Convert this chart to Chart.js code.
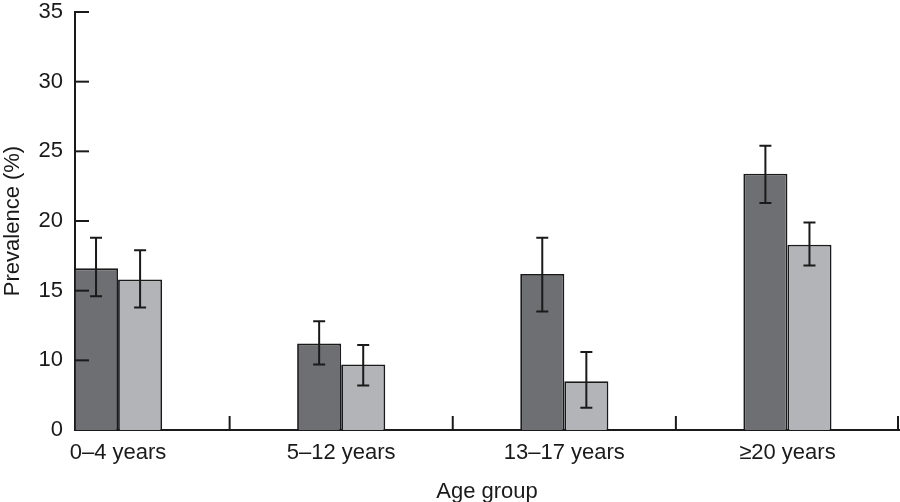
<!DOCTYPE html>
<html>
<head>
<meta charset="utf-8">
<script src="https://cdn.jsdelivr.net/npm/chart.js@4/dist/chart.umd.min.js"></script>
<style>
  html, body { margin: 0; padding: 0; background: #fff; }
  #wrap { width: 900px; height: 502px; }
</style>
</head>
<body>
<div id="wrap"><canvas id="myChart"></canvas></div>
<script>
const categorias = ['0\u20134 years', '5\u201312 years', '13\u201317 years', '\u226520 years'];
const escuro = [16.6, 11.2, 16.2, 23.4];
const escuroBaixo = [14.6, 9.7, 13.5, 21.3];
const escuroAlto = [18.8, 12.8, 18.8, 25.4];
const claro = [15.8, 9.7, 8.5, 18.3];
const claroBaixo = [13.8, 8.2, 6.6, 16.8];
const claroAlto = [17.9, 11.1, 10.6, 19.9];
const yTicks = [5, 10, 15, 20, 25, 30, 35];
const yRotulos = ['0', '10', '15', '20', '25', '30', '35'];

const fonte = 'Liberation Sans, Arial, Helvetica, sans-serif';

function pontos(vals) {
  return vals.map((v, i) => ({ x: i, y: v }));
}

// barras de erro + marcas dos eixos viradas para dentro
const errosPlugin = {
  id: 'erros',
  afterDatasetsDraw(chart) {
    const ctx = chart.ctx;
    const y = chart.scales.y;
    const x = chart.scales.x;
    const limites = [[escuroBaixo, escuroAlto], [claroBaixo, claroAlto]];
    ctx.save();
    ctx.strokeStyle = '#1a1a1a';
    ctx.lineWidth = 2;
    limites.forEach((lim, d) => {
      chart.getDatasetMeta(d).data.forEach((bar, i) => {
        const y1 = y.getPixelForValue(lim[0][i]);
        const y2 = y.getPixelForValue(lim[1][i]);
        ctx.beginPath();
        ctx.moveTo(bar.x, y1); ctx.lineTo(bar.x, y2);
        ctx.moveTo(bar.x - 6, y1); ctx.lineTo(bar.x + 6, y1);
        ctx.moveTo(bar.x - 6, y2); ctx.lineTo(bar.x + 6, y2);
        ctx.stroke();
      });
    });
    // marcas do eixo y
    const area = chart.chartArea;
    yTicks.slice(1).forEach(t => {
      const py = y.getPixelForValue(t);
      ctx.beginPath();
      ctx.moveTo(area.left, py); ctx.lineTo(area.left + 14, py);
      ctx.stroke();
    });
    // marcas do eixo x entre grupos
    [0.5, 1.5, 2.5, 3.5].forEach(t => {
      const px = Math.min(x.getPixelForValue(t), area.right - 1);
      ctx.beginPath();
      ctx.moveTo(px, area.bottom); ctx.lineTo(px, area.bottom - 14);
      ctx.stroke();
    });
    ctx.restore();
  }
};

const config = {
  type: 'bar',
  data: {
    datasets: [{
      label: 'A',
      data: pontos(escuro),
      backgroundColor: '#6e6f72',
      borderColor: '#1a1a1a',
      borderWidth: 1.8,
      categoryPercentage: 0.395,
      barPercentage: 1
    }, {
      label: 'B',
      data: pontos(claro),
      backgroundColor: '#b3b4b7',
      borderColor: '#1a1a1a',
      borderWidth: 1.8,
      categoryPercentage: 0.395,
      barPercentage: 1
    }]
  },
  options: {
    responsive: true,
    maintainAspectRatio: false,
    animation: false,
    layout: { padding: { top: 12, right: 1, left: 0, bottom: 0 } },
    plugins: {
      legend: { display: false },
      tooltip: { enabled: false }
    },
    scales: {
      x: {
        type: 'linear',
        offset: false,
        min: -0.193,
        max: 3.5,
        afterBuildTicks: (s) => { s.ticks = [0, 1, 2, 3].map(v => ({ value: v })); },
        afterFit: (s) => { s.height = 72; s.paddingLeft = 0; s.paddingRight = 0; },
        grid: { display: false, drawTicks: false },
        border: { display: true, color: '#1a1a1a', width: 2 },
        ticks: {
          color: '#1a1a1a',
          padding: 10,
          maxRotation: 0,
          autoSkip: false,
          font: { family: fonte, size: 22 },
          callback: (v) => categorias[v]
        },
        title: {
          display: true,
          text: 'Age group',
          color: '#1a1a1a',
          font: { family: fonte, size: 22 },
          padding: { top: 14, bottom: -3 }
        }
      },
      y: {
        min: 5,
        max: 35,
        afterBuildTicks: (s) => { s.ticks = yTicks.map(v => ({ value: v })); },
        afterFit: (s) => { s.width = 75; s.paddingTop = 0; s.paddingBottom = 0; },
        grid: { display: false, drawTicks: false },
        border: { display: true, color: '#1a1a1a', width: 2 },
        ticks: {
          color: '#1a1a1a',
          padding: 12,
          font: { family: fonte, size: 22 },
          callback: (v) => yRotulos[yTicks.indexOf(v)]
        },
        title: {
          display: true,
          text: 'Prevalence (%)',
          color: '#1a1a1a',
          font: { family: fonte, size: 22 },
          padding: { top: 0, bottom: 4 }
        }
      }
    }
  },
  plugins: [errosPlugin]
};

window.onload = function() {
  const ctx = document.getElementById('myChart').getContext('2d');
  new Chart(ctx, config);
};
</script>
</body>
</html>
